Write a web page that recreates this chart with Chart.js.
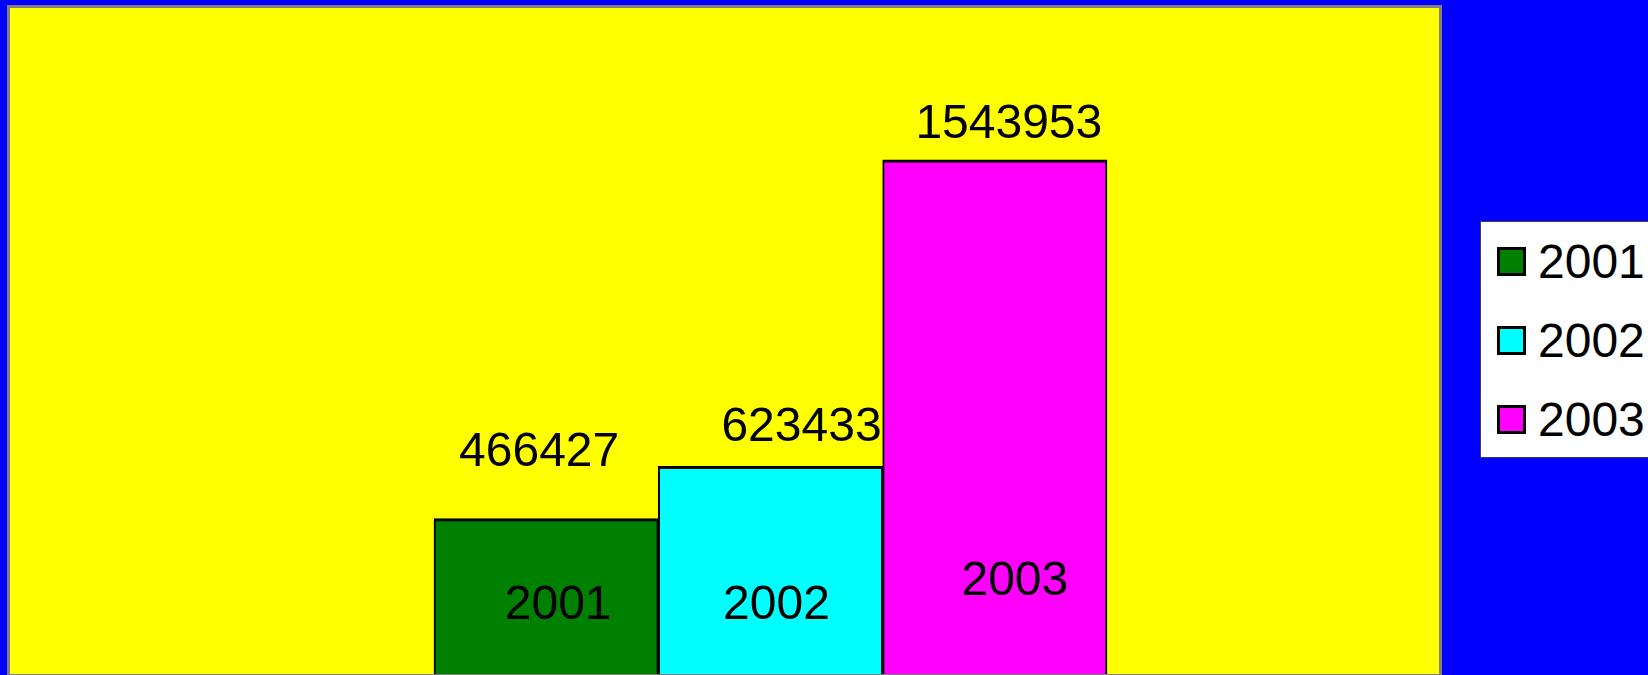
<!DOCTYPE html>
<html lang="en">
<head>
  <meta charset="UTF-8" />
  <title>2001 - 2003</title>
  <script src="https://cdn.jsdelivr.net/npm/chart.js"></script>
  <style>
    body {
      margin: 0;
      background: #0000ff;
      overflow: hidden;
      font-family: 'Liberation Sans', Arial, sans-serif;
    }

    #wrap {
      position: relative;
      width: 1648px;
      height: 675px;
    }

    #legend {
      position: absolute;
      left: 1480px;
      top: 221px;
      width: 220px;
      height: 235px;
      background: #ffffff;
      border: 1px solid #404040;
    }

    .item {
      position: absolute;
      left: 16px;
      height: 40px;
      display: flex;
      align-items: center;
      font-size: 48px;
      color: #000;
    }

    .swatch {
      width: 23px;
      height: 23px;
      border: 3px solid #000;
      margin-right: 12px;
    }
  </style>
</head>

<body>
  <div id="wrap">
    <canvas id="barChart" width="1648" height="675"></canvas>
    <div id="legend"></div>
  </div>

  <script>
    const years = [2001, 2002, 2003];
    const yearLabels = ['2001', '2002', '2003'];
    const values = [466427, 623433, 1543953];
    const colors = ['#008000', '#00ffff', '#ff00ff'];

    // hand placed labels, like in the original sheet
    const labelNudge = [
      { vx: -7, vy: -66, nx: 12, ny: -68 },
      { vx: 31, vy: -39, nx: 6, ny: -68 },
      { vx: 14, vy: -35, nx: 20, ny: -92 }
    ];

    const plotFrame = {
      id: 'plotFrame',
      beforeDraw(chart) {
        const { ctx, chartArea: a } = chart;
        ctx.save();
        ctx.fillStyle = '#ffff00';
        ctx.fillRect(a.left, a.top, a.right - a.left, a.bottom - a.top);
        ctx.strokeStyle = '#808080';
        ctx.lineWidth = 3;
        ctx.strokeRect(a.left - 1.5, a.top - 1.5, a.right - a.left + 3, a.bottom - a.top + 3);
        ctx.restore();
      }
    };

    const barLabels = {
      id: 'barLabels',
      afterDatasetsDraw(chart) {
        const ctx = chart.ctx;
        ctx.save();
        ctx.font = "48px 'Liberation Sans', Arial, sans-serif";
        ctx.fillStyle = '#000';
        ctx.textAlign = 'center';
        ctx.textBaseline = 'middle';
        chart.data.datasets.forEach((ds, i) => {
          const bar = chart.getDatasetMeta(i).data[0];
          const n = labelNudge[i];
          ctx.fillText(String(values[i]), bar.x + n.vx, bar.y + n.vy);
          ctx.fillText(yearLabels[i], bar.x + n.nx, bar.base + n.ny);
        });
        ctx.restore();
      }
    };

    new Chart(document.getElementById('barChart'), {
      type: 'bar',
      data: {
        datasets: years.map((yr, i) => ({
          label: yearLabels[i],
          data: [{ x: yr, y: values[i] }],
          backgroundColor: colors[i],
          borderColor: '#000',
          borderWidth: { left: 2, right: 2, top: 3, bottom: 0 },
          grouped: false,
          barPercentage: 1,
          categoryPercentage: 1
        }))
      },
      options: {
        responsive: false,
        animation: false,
        layout: { padding: { left: 10, top: 8, right: 209, bottom: 1 } },
        scales: {
          x: {
            type: 'linear',
            min: 1998.61,
            max: 2004.98,
            offset: false,
            display: false,
            // one tick per year so the bars get a full year of width
            afterBuildTicks: (scale) => { scale.ticks = years.map(v => ({ value: v })); }
          },
          y: { min: 0, max: 2000000, display: false }
        },
        plugins: {
          legend: { display: false },
          tooltip: { enabled: false }
        }
      },
      plugins: [plotFrame, barLabels]
    });

    const legend = document.getElementById('legend');
    yearLabels.forEach((lab, i) => {
      const row = document.createElement('div');
      row.className = 'item';
      row.style.top = (19 + i * 79) + 'px';
      row.innerHTML = `<span class="swatch" style="background:${colors[i]}"></span>${lab}`;
      legend.appendChild(row);
    });
  </script>
</body>
</html>
